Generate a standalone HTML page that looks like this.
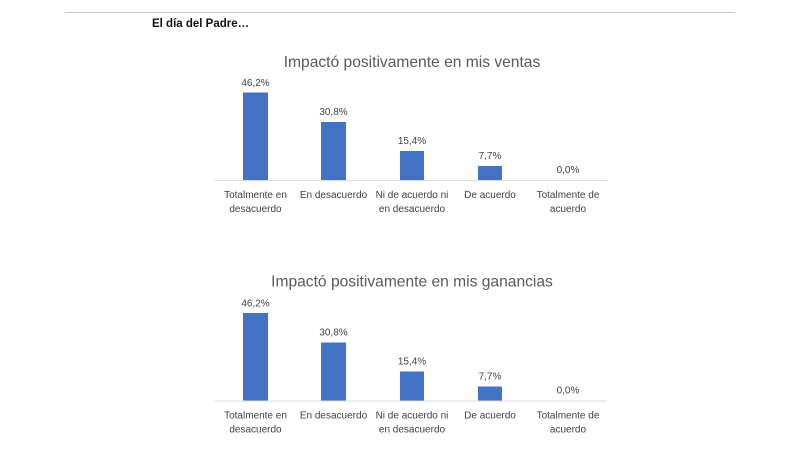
<!DOCTYPE html>
<html><head><meta charset="utf-8"><style>
html,body{margin:0;padding:0;background:#fff;width:800px;height:453px;overflow:hidden}
svg text{font-family:"Liberation Sans",sans-serif}
</style></head><body>
<svg width="800" height="453" xmlns="http://www.w3.org/2000/svg">
<line x1="65" y1="12.5" x2="735" y2="12.5" stroke="#c8c8c8" stroke-width="1"/>
<text x="152" y="27" font-size="11.5" font-weight="bold" fill="#111">El día del Padre…</text>
<g id="c1">
<text x="412" y="67" font-size="15.6" fill="#595959" text-anchor="middle">Impactó positivamente en mis ventas</text>
<rect x="243" y="92.5" width="25" height="88" fill="#4472c4"/>
<rect x="321" y="122" width="25" height="58.5" fill="#4472c4"/>
<rect x="400" y="151" width="24" height="29.5" fill="#4472c4"/>
<rect x="478" y="166" width="24" height="14.5" fill="#4472c4"/>
<line x1="215" y1="180.5" x2="607" y2="180.5" stroke="#d9d9d9" stroke-width="1"/>
<g font-size="10" fill="#404040" text-anchor="middle">
<text x="255.5" y="86">46,2%</text>
<text x="333.5" y="115">30,8%</text>
<text x="412" y="144">15,4%</text>
<text x="490" y="159">7,7%</text>
<text x="568" y="173">0,0%</text>
<text x="255.5" y="198">Totalmente en</text><text x="255.5" y="212">desacuerdo</text>
<text x="333.5" y="198">En desacuerdo</text>
<text x="412" y="198">Ni de acuerdo ni</text><text x="412" y="212">en desacuerdo</text>
<text x="490" y="198">De acuerdo</text>
<text x="568" y="198">Totalmente de</text><text x="568" y="212">acuerdo</text>
</g>
</g>
<g transform="translate(0,220.5)">
<text x="412" y="66" font-size="15.6" fill="#595959" text-anchor="middle">Impactó positivamente en mis ganancias</text>
<rect x="243" y="92.5" width="25" height="88" fill="#4472c4"/>
<rect x="321" y="122" width="25" height="58.5" fill="#4472c4"/>
<rect x="400" y="151" width="24" height="29.5" fill="#4472c4"/>
<rect x="478" y="166" width="24" height="14.5" fill="#4472c4"/>
<line x1="215" y1="180.5" x2="607" y2="180.5" stroke="#d9d9d9" stroke-width="1"/>
<g font-size="10" fill="#404040" text-anchor="middle">
<text x="255.5" y="86">46,2%</text>
<text x="333.5" y="115">30,8%</text>
<text x="412" y="144">15,4%</text>
<text x="490" y="159">7,7%</text>
<text x="568" y="173">0,0%</text>
<text x="255.5" y="198">Totalmente en</text><text x="255.5" y="212">desacuerdo</text>
<text x="333.5" y="198">En desacuerdo</text>
<text x="412" y="198">Ni de acuerdo ni</text><text x="412" y="212">en desacuerdo</text>
<text x="490" y="198">De acuerdo</text>
<text x="568" y="198">Totalmente de</text><text x="568" y="212">acuerdo</text>
</g>
</g>
</svg>
</body></html>
